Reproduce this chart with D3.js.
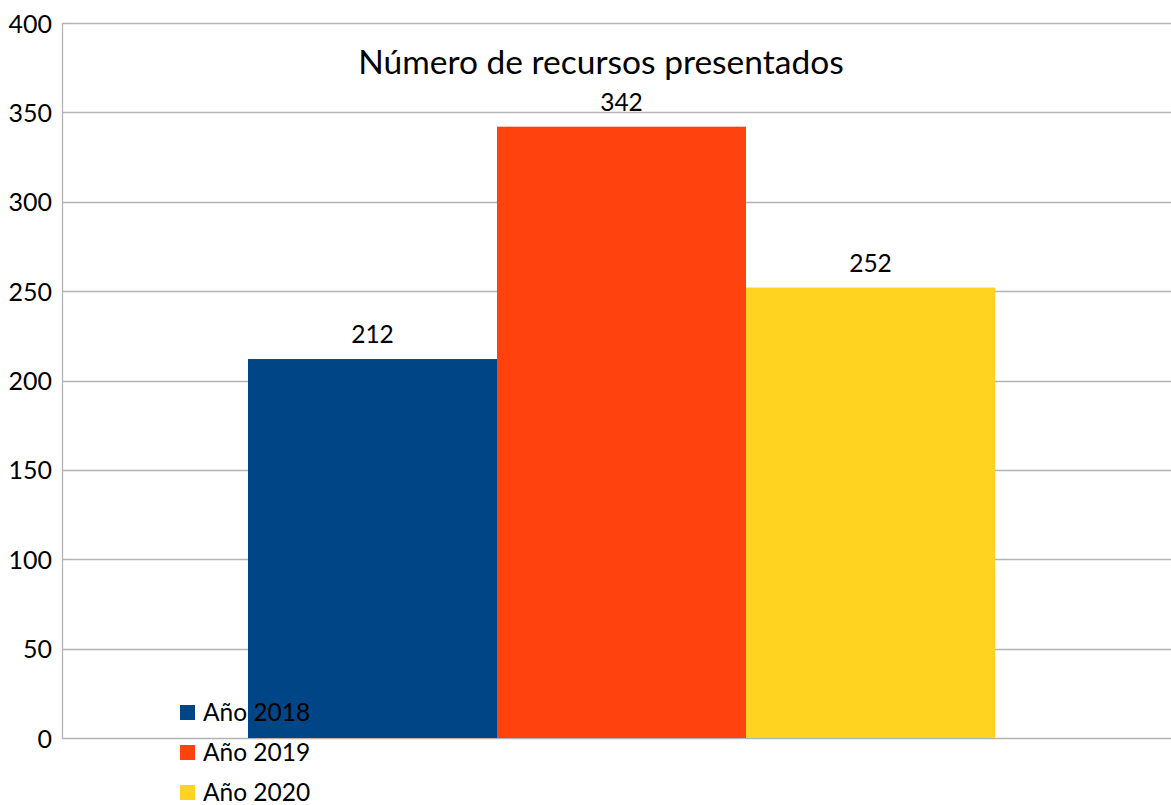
<!DOCTYPE html>
<html><head><meta charset="utf-8">
<script src="https://cdn.jsdelivr.net/npm/d3@7"></script>
<style>body{margin:0;background:#fff;} svg{display:block;} text{font-family:Lato,"Open Sans",sans-serif;fill:#000;}</style>
</head><body>
<svg id="c" width="1171" height="805"></svg>
<script>
const categories = [""];
const seriesNames = ["Año 2018", "Año 2019", "Año 2020"];
const seriesValues = [212, 342, 252];
const seriesColors = ["#004586", "#ff420e", "#ffd320"];
const yTicks = [0, 50, 100, 150, 200, 250, 300, 350, 400];
const title = "Número de recursos presentados";

(function () {
const svg = d3.select("#c");
const mLeft = 62, mRight = 1181, mTop = 23, mBottom = 738;

const y = d3.scaleLinear().domain([0, 400]).range([mBottom, mTop]);
const x0 = d3.scaleBand().domain(categories).range([mLeft, mRight]).paddingInner(0).paddingOuter(0.249);
const x1 = d3.scaleBand().domain(seriesNames).range([0, x0.bandwidth()]).padding(0);

// gridlines
svg.append("g").selectAll("line").data(yTicks).join("line")
  .attr("x1", mLeft).attr("x2", mRight)
  .attr("y1", d => Math.round(y(d)) + 0.5).attr("y2", d => Math.round(y(d)) + 0.5)
  .attr("stroke", "#b3b3b3").attr("stroke-width", 1.3);

// y axis line
svg.append("line").attr("x1", mLeft + 0.5).attr("x2", mLeft + 0.5)
  .attr("y1", y(400)).attr("y2", y(0) + 1).attr("stroke", "#b3b3b3").attr("stroke-width", 1.3);

// y tick labels
const yAxis = d3.axisLeft(y).tickValues(yTicks).tickSize(0).tickPadding(10);
const ga = svg.append("g").attr("transform", `translate(${mLeft},0)`).call(yAxis);
ga.select(".domain").remove();
ga.selectAll("text").style("font-size", "25px").style("font-family", "Lato, 'Open Sans', sans-serif")
  .attr("fill", "#000").attr("dy", "0.36em");

// bars
const g = svg.append("g").attr("transform", `translate(${x0(categories[0])},0)`);
g.selectAll("rect").data(seriesValues).join("rect")
  .attr("x", (d, i) => x1(seriesNames[i]))
  .attr("width", x1.bandwidth())
  .attr("y", d => y(d))
  .attr("height", d => y(0) - y(d))
  .attr("fill", (d, i) => seriesColors[i]);

g.selectAll("text.v").data(seriesValues).join("text").attr("class", "v")
  .attr("x", (d, i) => x1(seriesNames[i]) + x1.bandwidth() / 2)
  .attr("y", d => y(d) - 16)
  .attr("text-anchor", "middle").style("font-size", "24.5px").text(d => d);

// title
svg.append("text").attr("x", 601).attr("y", 74).attr("text-anchor", "middle")
  .style("font-size", "33.5px").text(title);

// legend
const lg = svg.append("g");
seriesNames.forEach((n, i) => {
  const cy = 713 + i * 40;
  lg.append("rect").attr("x", 180).attr("y", cy - 8).attr("width", 15).attr("height", 15).attr("fill", seriesColors[i]);
  lg.append("text").attr("x", 203).attr("y", cy + 8).style("font-size", "24.5px").text(n);
});
})();
</script>
</body></html>
